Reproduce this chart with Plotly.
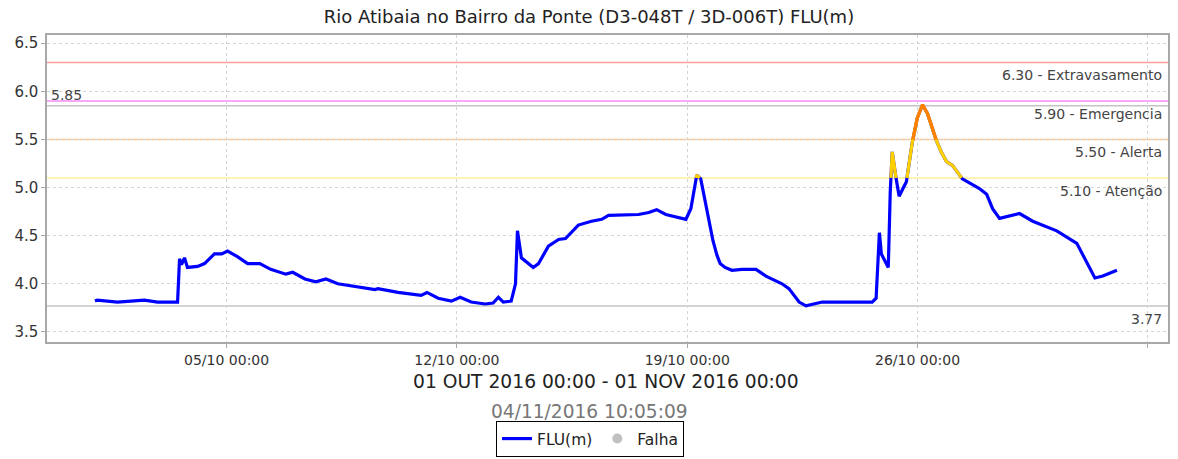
import pandas as pd
import plotly.graph_objects as go

# ---------------- data (days since 2016-10-01 00:00, level in m) ----------------
base_time = "2016-10-01 00:00"
days = [0.00, 0.07, 0.68, 1.50, 1.90, 2.45, 2.51, 2.57, 2.63, 2.72, 2.81, 3.12, 3.33,
        3.63, 3.85, 4.03, 4.34, 4.64, 5.01, 5.34, 5.80, 6.01, 6.38, 6.71, 7.02, 7.38,
        7.90, 8.51, 8.60, 9.21, 9.91, 10.09, 10.43, 10.83, 11.10, 11.43, 11.86, 12.10,
        12.26, 12.41, 12.65, 12.78, 12.84, 12.96, 13.32, 13.48, 13.78, 14.09, 14.30,
        14.69, 15.09, 15.40, 15.61, 16.13, 16.52, 16.83, 17.07, 17.35, 17.96, 18.11,
        18.29, 18.41, 18.66, 18.78, 18.90, 19.00, 19.15, 19.36, 19.66, 20.09, 20.39,
        20.88, 21.09, 21.40, 21.61, 22.10, 22.92, 23.62, 23.74, 23.84, 23.90, 24.11,
        24.17, 24.23, 24.35, 24.44, 24.66, 24.84, 24.99, 25.15, 25.30, 25.42, 25.57,
        25.72, 25.88, 26.06, 26.36, 26.88, 27.10, 27.28, 27.49, 28.10, 28.50, 29.23,
        29.84, 30.39, 30.63, 31.06]
level = [3.82, 3.83, 3.81, 3.83, 3.81, 3.81, 3.81, 4.26, 4.20, 4.27, 4.17, 4.18, 4.21,
         4.31, 4.31, 4.34, 4.28, 4.21, 4.21, 4.15, 4.10, 4.12, 4.05, 4.02, 4.05, 4.00,
         3.97, 3.94, 3.95, 3.91, 3.88, 3.91, 3.85, 3.82, 3.86, 3.81, 3.79, 3.80,
         3.86, 3.81, 3.82, 4.00, 4.55, 4.27, 4.17, 4.21, 4.39, 4.46, 4.47,
         4.61, 4.65, 4.67, 4.71, 4.72, 4.72, 4.74, 4.77, 4.72, 4.67, 4.78,
         5.13, 5.09, 4.68, 4.45, 4.30, 4.21, 4.17, 4.14, 4.15, 4.15, 4.08,
         4.00, 3.95, 3.81, 3.77, 3.81, 3.81, 3.81, 3.85, 4.53, 4.31, 4.17,
         4.96, 5.37, 5.09, 4.91, 5.06, 5.47, 5.72, 5.86, 5.77, 5.65, 5.49,
         5.37, 5.27, 5.23, 5.09, 4.99, 4.93, 4.78, 4.68, 4.73, 4.65, 4.55,
         4.42, 4.06, 4.08, 4.14]

threshold_values = [6.30, 5.90, 5.50, 5.10]
threshold_names = ["Extravasamento", "Emergencia", "Alerta", "Atenção"]
threshold_line_colors = ["#FF9C9C", "#F58CF5", "#FFC690", "#FFEE9A"]
max_value = 5.85
min_value = 3.77

segment_thresholds = [5.10, 5.50]
segment_colors = ["#FFD000", "#FF7F00"]

title_text = "Rio Atibaia no Bairro da Ponte (D3-048T / 3D-006T) FLU(m)"
period_text = "01 OUT 2016 00:00 - 01 NOV 2016 00:00"
stamp_text = "04/11/2016 10:05:09"

x_range = ["2016-09-29 13:00", "2016-11-02 14:40"]
y_range = [3.395, 6.585]
tick_start = "2016-10-05"

# ---------------- helpers ----------------
t0 = pd.Timestamp(base_time)


def to_time(d):
    return t0 + pd.Timedelta(days=d)


def above(tv, vv, T):
    xs, ys = [], []
    for i in range(len(vv)):
        if i > 0:
            a, b = vv[i - 1], vv[i]
            if (a - T) * (b - T) < 0:
                f = (T - a) / (b - a)
                xs.append(to_time(tv[i - 1] + f * (tv[i] - tv[i - 1])))
                ys.append(T)
                if b < T:
                    xs.append(None)
                    ys.append(None)
        if vv[i] >= T:
            xs.append(to_time(tv[i]))
            ys.append(vv[i])
    return xs, ys


times = [to_time(d) for d in days]
FONT = "DejaVu Sans"
W, H = 1178, 459
ML, MR, MT, MB = 47, 10, 35, 117
PW, PH = W - ML - MR, H - MT - MB


def px_x(x):
    return (x - ML) / PW


def px_y(y):
    return (H - MB - y) / PH


fig = go.Figure()
fig.add_trace(go.Scatter(x=times, y=level, mode="lines", name="FLU(m)",
                         line=dict(color="#0000FF", width=3.2)))
for T, c in zip(segment_thresholds, segment_colors):
    xs, ys = above(days, level, T)
    fig.add_trace(go.Scatter(x=xs, y=ys, mode="lines", showlegend=False,
                             line=dict(color=c, width=3.2), hoverinfo="skip"))
fig.add_trace(go.Scatter(x=[None], y=[None], mode="markers", name="Falha",
                         marker=dict(color="#C0C0C0", size=10, symbol="circle")))

shapes = []
annotations = []
for v, n, c in zip(threshold_values, threshold_names, threshold_line_colors):
    shapes.append(dict(type="line", xref="paper", x0=0, x1=1, yref="y", y0=v, y1=v,
                       line=dict(color=c, width=1.5), layer="below"))
    annotations.append(dict(xref="paper", x=1, xanchor="right", xshift=-4,
                            yref="y", y=v, yanchor="top", yshift=-3,
                            text=f"{v:.2f} - {n}", showarrow=False,
                            font=dict(family=FONT, size=14, color="#444444")))
for v in [max_value, min_value]:
    shapes.append(dict(type="line", xref="paper", x0=0, x1=1, yref="y", y0=v, y1=v,
                       line=dict(color="#C4C4C4", width=1.5), layer="below"))
annotations.append(dict(xref="paper", x=0, xanchor="left", xshift=2, yref="y", y=max_value,
                        yanchor="bottom", yshift=1, text=f"{max_value:.2f}", showarrow=False,
                        font=dict(family=FONT, size=14, color="#444444")))
annotations.append(dict(xref="paper", x=1, xanchor="right", xshift=-4, yref="y", y=min_value,
                        yanchor="top", yshift=-3, text=f"{min_value:.2f}", showarrow=False,
                        font=dict(family=FONT, size=14, color="#444444")))
annotations.append(dict(xref="paper", x=px_x(606), yref="paper", y=px_y(381),
                        yanchor="middle", text=period_text, showarrow=False,
                        font=dict(family=FONT, size=18.7, color="#222222")))
annotations.append(dict(xref="paper", x=px_x(589), yref="paper", y=px_y(411),
                        yanchor="middle", text=stamp_text, showarrow=False,
                        font=dict(family=FONT, size=18.6, color="#777777")))

fig.update_layout(
    width=W, height=H,
    margin=dict(l=ML, r=MR, t=MT, b=MB),
    paper_bgcolor="white", plot_bgcolor="white",
    title=dict(text=title_text, x=0.5, xref="container", xanchor="center",
               y=1 - 17 / H, yref="container", yanchor="middle",
               font=dict(family=FONT, size=18, color="#222222")),
    showlegend=True,
    legend=dict(orientation="h", xref="container", x=590 / W, xanchor="center",
                yref="container", y=1 - 421 / H, yanchor="top",
                bordercolor="#000000", borderwidth=1, bgcolor="white",
                font=dict(family=FONT, size=15.5, color="#222222"),
                itemwidth=30, tracegroupgap=0),
    shapes=shapes, annotations=annotations,
)
fig.update_xaxes(type="date", range=x_range, tick0=tick_start, dtick=7 * 86400000,
                 tickformat="%d/%m %H:%M", showgrid=True, gridcolor="#D4D4D4",
                 griddash="3px,3px", gridwidth=1, showline=True, linecolor="#A8A8A8",
                 linewidth=1.5, mirror=True, ticks="outside", ticklen=4, tickcolor="#A8A8A8",
                 tickfont=dict(family=FONT, size=14, color="#333333"), zeroline=False,
                 automargin=False)
fig.update_yaxes(range=y_range, tick0=3.5, dtick=0.5, tickformat=".1f",
                 showgrid=True, gridcolor="#D4D4D4", griddash="3px,3px", gridwidth=1,
                 showline=True, linecolor="#A8A8A8", linewidth=1.5, mirror=True,
                 ticks="outside", ticklen=4, tickcolor="#A8A8A8",
                 tickfont=dict(family=FONT, size=15, color="#333333"), zeroline=False,
                 automargin=False)

fig.write_html("out.html", config={"displayModeBar": False},
               post_script="document.body.style.margin='0';document.body.style.overflow='hidden';")
